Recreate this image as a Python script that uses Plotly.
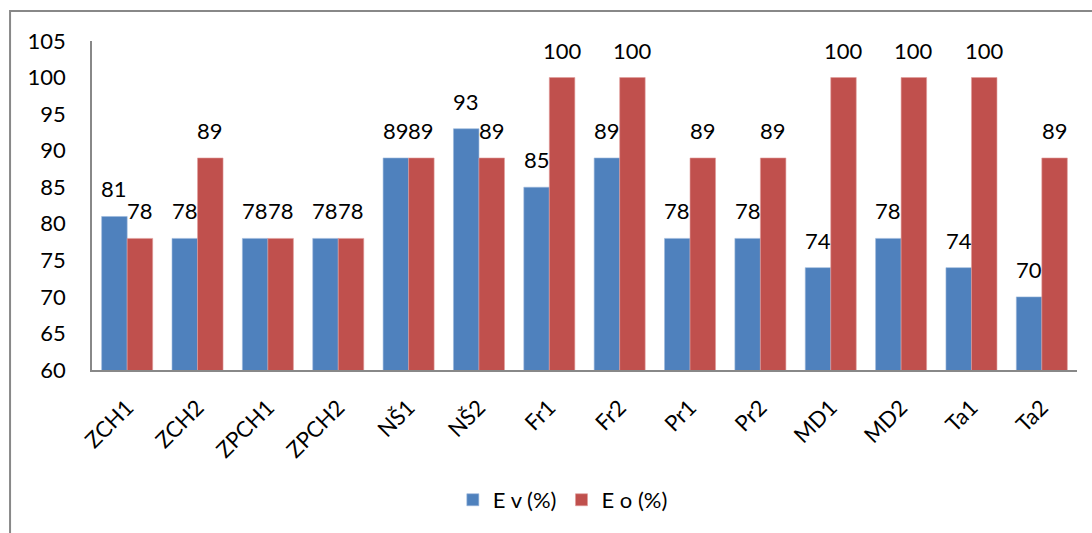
import plotly.graph_objects as go

categories = ["ZCH1", "ZCH2", "ZPCH1", "ZPCH2", "NŠ1", "NŠ2", "Fr1", "Fr2",
              "Pr1", "Pr2", "MD1", "MD2", "Ta1", "Ta2"]
ev = [81, 78, 78, 78, 89, 93, 85, 89, 78, 78, 74, 78, 74, 70]
eo = [78, 89, 78, 78, 89, 89, 100, 100, 89, 89, 100, 100, 100, 89]
y_ticks = [60, 65, 70, 75, 80, 85, 90, 95, 100, 105]

FONT = "Lato, Carlito, Calibri, sans-serif"
FS = 22

fig = go.Figure()
fig.add_trace(go.Bar(
    name="E v (%)", x=categories, y=ev,
    marker=dict(color="#4F81BD", line=dict(color="#9BB7DB", width=0.6)),
))
fig.add_trace(go.Bar(
    name="E o (%)", x=categories, y=eo,
    marker=dict(color="#C0504D", line=dict(color="#E09C9A", width=0.6)),
))

# data labels above the bars (offset half a bar width left/right of category center)
annotations = []
for series, shift in ((ev, -12.8), (eo, 12.8)):
    for c, v in zip(categories, series):
        annotations.append(dict(
            x=c, y=v, xref="x", yref="y", text=str(v), showarrow=False,
            xshift=shift, yshift=12, yanchor="bottom", xanchor="center",
            font=dict(size=FS, color="black", family=FONT),
        ))

fig.update_layout(
    width=1092, height=533,
    margin=dict(l=92, r=15, t=41, b=163),
    paper_bgcolor="white", plot_bgcolor="white",
    barmode="group", bargap=0.275, bargroupgap=0,
    font=dict(family=FONT, size=FS, color="black"),
    showlegend=True,
    legend=dict(orientation="h", x=0.478, xanchor="center", y=-0.395, yanchor="middle",
                font=dict(size=FS), itemwidth=30, traceorder="normal"),
    xaxis=dict(showline=True, linecolor="#888888", linewidth=2, tickangle=-45,
               ticks="", showgrid=False, tickfont=dict(size=FS), ticklabelstandoff=14),
    yaxis=dict(range=[60, 105], tickvals=y_ticks, showline=True, linecolor="#888888",
               linewidth=1.5, showgrid=False, ticks="", ticklabelstandoff=20,
               tickfont=dict(size=FS), zeroline=False),
    annotations=annotations,
    shapes=[dict(type="rect", xref="paper", yref="paper",
                 x0=-0.0832, x1=1.2, y0=-0.8, y1=1.0912,
                 line=dict(color="#888888", width=2), layer="below")],
)

fig.write_html("out.html")
